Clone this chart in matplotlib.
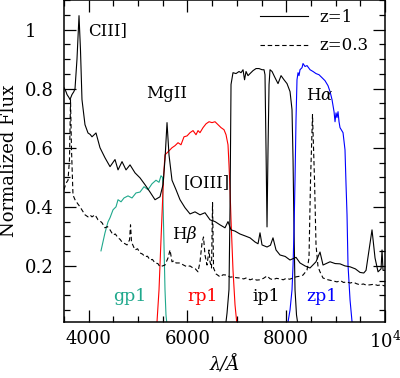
import matplotlib
matplotlib.use('Agg')
import matplotlib.pyplot as plt
from matplotlib.ticker import MultipleLocator

# z=1 quasar spectrum (observed wavelength, normalized flux)
wave_z1 = [3500, 3540, 3561, 3600, 3621, 3662, 3700, 3723, 3763, 3804, 3834, 3864, 3925, 3986,
           4030, 4067, 4148, 4229, 4330, 4432, 4533, 4594, 4675, 4756, 4837, 4938, 5039,
           5140, 5242, 5343, 5444, 5505, 5545, 5586, 5626, 5687, 5768, 5849, 5950, 6052,
           6153, 6254, 6355, 6457, 6558, 6659, 6760, 6821, 6882, 6960, 7064, 7160, 7267,
           7368, 7429, 7469, 7510, 7611, 7680, 7732, 7793, 7874, 7980, 8076, 8198, 8279,
           8380, 8481, 8603, 8684, 8745, 8887, 8990, 9089, 9190, 9292, 9400, 9494, 9570,
           9616, 9677, 9737, 9798, 9859, 9920, 9940, 9960, 10000]
flux_z1 = [0.803, 0.79, 0.78, 0.77, 0.763, 0.78, 0.79, 0.80, 0.90, 1.047, 0.93, 0.763, 0.678,
           0.65, 0.645, 0.637, 0.65, 0.60, 0.566, 0.536, 0.56, 0.525, 0.553, 0.525, 0.542,
           0.515, 0.498, 0.475, 0.45, 0.424, 0.434, 0.475, 0.56, 0.685, 0.576, 0.49, 0.458,
           0.424, 0.397, 0.376, 0.383, 0.373, 0.38, 0.356, 0.35, 0.339, 0.329, 0.35, 0.322,
           0.318, 0.308, 0.302, 0.295, 0.281, 0.275, 0.312, 0.271, 0.264, 0.27, 0.295, 0.254,
           0.237, 0.232, 0.22, 0.229, 0.21, 0.20, 0.193, 0.214, 0.247, 0.203, 0.214, 0.208,
           0.207, 0.20, 0.197, 0.19, 0.178, 0.176, 0.185, 0.254, 0.322, 0.227, 0.18, 0.19,
           0.254, 0.185, 0.185]

# z=0.3 spectrum
wave_z03 = [3500, 3541, 3581, 3611, 3632, 3652, 3682, 3723, 3780, 3824, 3880, 3925, 3986,
            4030, 4067, 4128, 4189, 4230, 4270, 4330, 4380, 4432, 4493, 4540, 4594, 4635,
            4675, 4776, 4827, 4847, 4867, 4938, 4990, 5039, 5090, 5140, 5190, 5242, 5290,
            5343, 5400, 5444, 5545, 5606, 5647, 5687, 5730, 5768, 5849, 5920, 5991, 6050,
            6112, 6160, 6214, 6254, 6295, 6325, 6355, 6396, 6437, 6457, 6487, 6508, 6528,
            6578, 6620, 6659, 6720, 6801, 6860, 6922, 6990, 7064, 7140, 7200, 7267, 7340,
            7400, 7469, 7540, 7611, 7670, 7732, 7800, 7874, 7940, 8000, 8070, 8137, 8200,
            8270, 8340, 8421, 8461, 8492, 8532, 8573, 8603, 8644, 8684, 8745, 8800, 8846,
            8930, 9028, 9100, 9160, 9231, 9292, 9360, 9420, 9494, 9560, 9620, 9697, 9780,
            9850, 9920, 10000]
flux_z03 = [0.458, 0.48, 0.49, 0.56, 0.763, 0.593, 0.44, 0.424, 0.41, 0.40, 0.385, 0.373,
            0.366, 0.372, 0.366, 0.373, 0.356, 0.352, 0.346, 0.329, 0.333, 0.322, 0.305,
            0.308, 0.295, 0.29, 0.281, 0.271, 0.288, 0.339, 0.281, 0.254, 0.258, 0.244,
            0.24, 0.231, 0.233, 0.22, 0.222, 0.21, 0.208, 0.197, 0.203, 0.227, 0.254, 0.214,
            0.218, 0.21, 0.21, 0.203, 0.197, 0.2, 0.193, 0.19, 0.18, 0.214, 0.278, 0.298,
            0.237, 0.203, 0.254, 0.214, 0.193, 0.414, 0.193, 0.173, 0.168, 0.163, 0.17,
            0.169, 0.162, 0.163, 0.16, 0.159, 0.156, 0.16, 0.153, 0.157, 0.152, 0.153,
            0.158, 0.166, 0.157, 0.153, 0.158, 0.156, 0.153, 0.158, 0.155, 0.159, 0.163,
            0.165, 0.169, 0.186, 0.227, 0.49, 0.712, 0.49, 0.271, 0.197, 0.18, 0.159, 0.156,
            0.153, 0.15, 0.146, 0.15, 0.144, 0.146, 0.142, 0.145, 0.14, 0.136, 0.139, 0.135,
            0.136, 0.138, 0.134, 0.136, 0.132]

# filter curves
wave_g = [4249, 4330, 4391, 4432, 4493, 4553, 4594, 4655, 4715, 4796, 4877, 4958,
          5039, 5120, 5201, 5282, 5363, 5424, 5464, 5495, 5505, 5525, 5545, 5565, 5586, 5606]
trans_g = [0.251, 0.312, 0.349, 0.363, 0.39, 0.40, 0.424, 0.417, 0.43, 0.437, 0.43, 0.447,
           0.45, 0.468, 0.458, 0.478, 0.49, 0.483, 0.505, 0.50, 0.42, 0.27, 0.12, 0.034, 0.0, -0.05]

wave_r = [5363, 5383, 5424, 5464, 5505, 5525, 5545, 5606, 5687, 5748, 5809, 5869,
          5930, 5991, 6052, 6113, 6173, 6214, 6254, 6315, 6376, 6437, 6497, 6558,
          6619, 6680, 6740, 6781, 6821, 6841, 6862, 6882, 6922, 6963, 7003, 7024]
trans_r = [-0.05, 0.01, 0.119, 0.288, 0.458, 0.525, 0.576, 0.586, 0.60, 0.607, 0.617, 0.61,
           0.637, 0.64, 0.651, 0.658, 0.644, 0.658, 0.651, 0.668, 0.681, 0.688, 0.685, 0.688,
           0.678, 0.668, 0.661, 0.644, 0.61, 0.542, 0.458, 0.356, 0.186, 0.068, 0.0, -0.05]

wave_i = [6740, 6780, 6801, 6821, 6841, 6862, 6882, 6922, 6983, 7044, 7085, 7125,
          7156, 7186, 7226, 7267, 7328, 7389, 7449, 7510, 7550, 7570, 7591, 7611,
          7631, 7652, 7672, 7713, 7773, 7834, 7895, 7955, 8016, 8077, 8117, 8138,
          8158, 8178, 8208, 8238, 8259]
trans_i = [-0.05, 0.01, 0.04, 0.08, 0.12, 0.40, 0.814, 0.854, 0.851, 0.858, 0.854, 0.864,
           0.83, 0.858, 0.844, 0.851, 0.861, 0.868, 0.868, 0.864, 0.864, 0.847, 0.593, 0.332,
           0.593, 0.814, 0.864, 0.858, 0.837, 0.817, 0.844, 0.83, 0.817, 0.79, 0.729, 0.559,
           0.32, 0.119, 0.034, 0.0, -0.05]

wave_z = [7996, 8036, 8077, 8117, 8138, 8158, 8178, 8198, 8218, 8239, 8259, 8279,
          8320, 8340, 8380, 8421, 8482, 8543, 8603, 8664, 8725, 8785, 8846, 8887,
          8927, 8968, 8988, 9008, 9028, 9049, 9069, 9089, 9150, 9190, 9211, 9231,
          9251, 9292, 9333, 9353]
trans_z = [-0.034, 0.01, 0.051, 0.119, 0.203, 0.322, 0.492, 0.695, 0.83, 0.854, 0.844, 0.864,
           0.871, 0.885, 0.875, 0.878, 0.864, 0.858, 0.851, 0.847, 0.837, 0.827, 0.81, 0.79,
           0.763, 0.722, 0.688, 0.718, 0.702, 0.722, 0.688, 0.668, 0.651, 0.593, 0.475, 0.373,
           0.203, 0.085, 0.01, -0.034]

filter_names = ['gp1', 'rp1', 'ip1', 'zp1']
filter_colors = ['#1fa88c', 'red', 'black', 'blue']
line_names = ['CIII]', 'MgII', '[OIII]', r'H$\beta$', r'H$\alpha$']

xticks = [4000, 6000, 8000, 10000]
xticklabels = ['4000', '6000', '8000', r'$10^4$']
yticks = [0.2, 0.4, 0.6, 0.8, 1.0]
yticklabels = ['0.2', '0.4', '0.6', '0.8', '1']

plt.rcParams['font.family'] = ['DejaVu Serif']
plt.rcParams['mathtext.fontset'] = 'dejavuserif'

fig = plt.figure(figsize=(4.0, 3.78), dpi=100)
ax = fig.add_axes([0.16, 0.148, 0.8025, 0.852])

filters = [(wave_g, trans_g), (wave_r, trans_r), (wave_i, trans_i), (wave_z, trans_z)]
for (w, t), c in zip(filters, filter_colors):
    ax.plot(w, t, color=c, lw=0.8)

ax.plot(wave_z03, flux_z03, color='black', lw=0.8, dashes=(4, 2.5), label='z=0.3')
ax.plot(wave_z1, flux_z1, color='black', lw=0.8, label='z=1')

# emission line labels
fs = 12
ax.text(4391, 0.995, line_names[0], fontsize=fs, ha='center', va='center')
ax.text(5586, 0.783, line_names[1], fontsize=fs, ha='center', va='center')
ax.text(6396, 0.481, line_names[2], fontsize=fs, ha='center', va='center')
ax.text(5950, 0.308, line_names[3], fontsize=fs, ha='center', va='center')
ax.text(8684, 0.776, line_names[4], fontsize=fs, ha='center', va='center')

# filter labels
for name, c, x in zip(filter_names, filter_colors, [4837, 6315, 7591, 8725]):
    ax.text(x, 0.095, name, fontsize=12.5, color=c, ha='center', va='center')

handles, labels = ax.get_legend_handles_labels()
ax.legend(handles[::-1], labels[::-1], loc='upper left', bbox_to_anchor=(0.605, 0.978),
          frameon=False, fontsize=fs, handlelength=2.9, handletextpad=0.7,
          labelspacing=0.7, borderpad=0.1, borderaxespad=0)

ax.set_xlim(3500, 10000)
ax.set_ylim(0.01, 1.1)
ax.set_xticks(xticks)
ax.set_xticklabels(xticklabels)
ax.set_yticks(yticks)
ax.set_yticklabels(yticklabels)
ax.xaxis.set_minor_locator(MultipleLocator(500))
ax.yaxis.set_minor_locator(MultipleLocator(0.05))
ax.tick_params(which='both', direction='in', top=True, right=True, labelsize=13, width=0.9)
ax.tick_params(which='major', length=8.5)
ax.tick_params(which='minor', length=4.5)
ax.tick_params(axis='x', pad=6)
ax.tick_params(axis='y', pad=28)
for lab in ax.get_yticklabels():
    lab.set_horizontalalignment('left')
for sp in ax.spines.values():
    sp.set_linewidth(1.1)

ax.set_xlabel('λ/Å', fontsize=13, fontstyle='italic', labelpad=3)
ax.set_ylabel('Normalized Flux', fontsize=13, labelpad=5)

fig.savefig('out.png', dpi=100)
